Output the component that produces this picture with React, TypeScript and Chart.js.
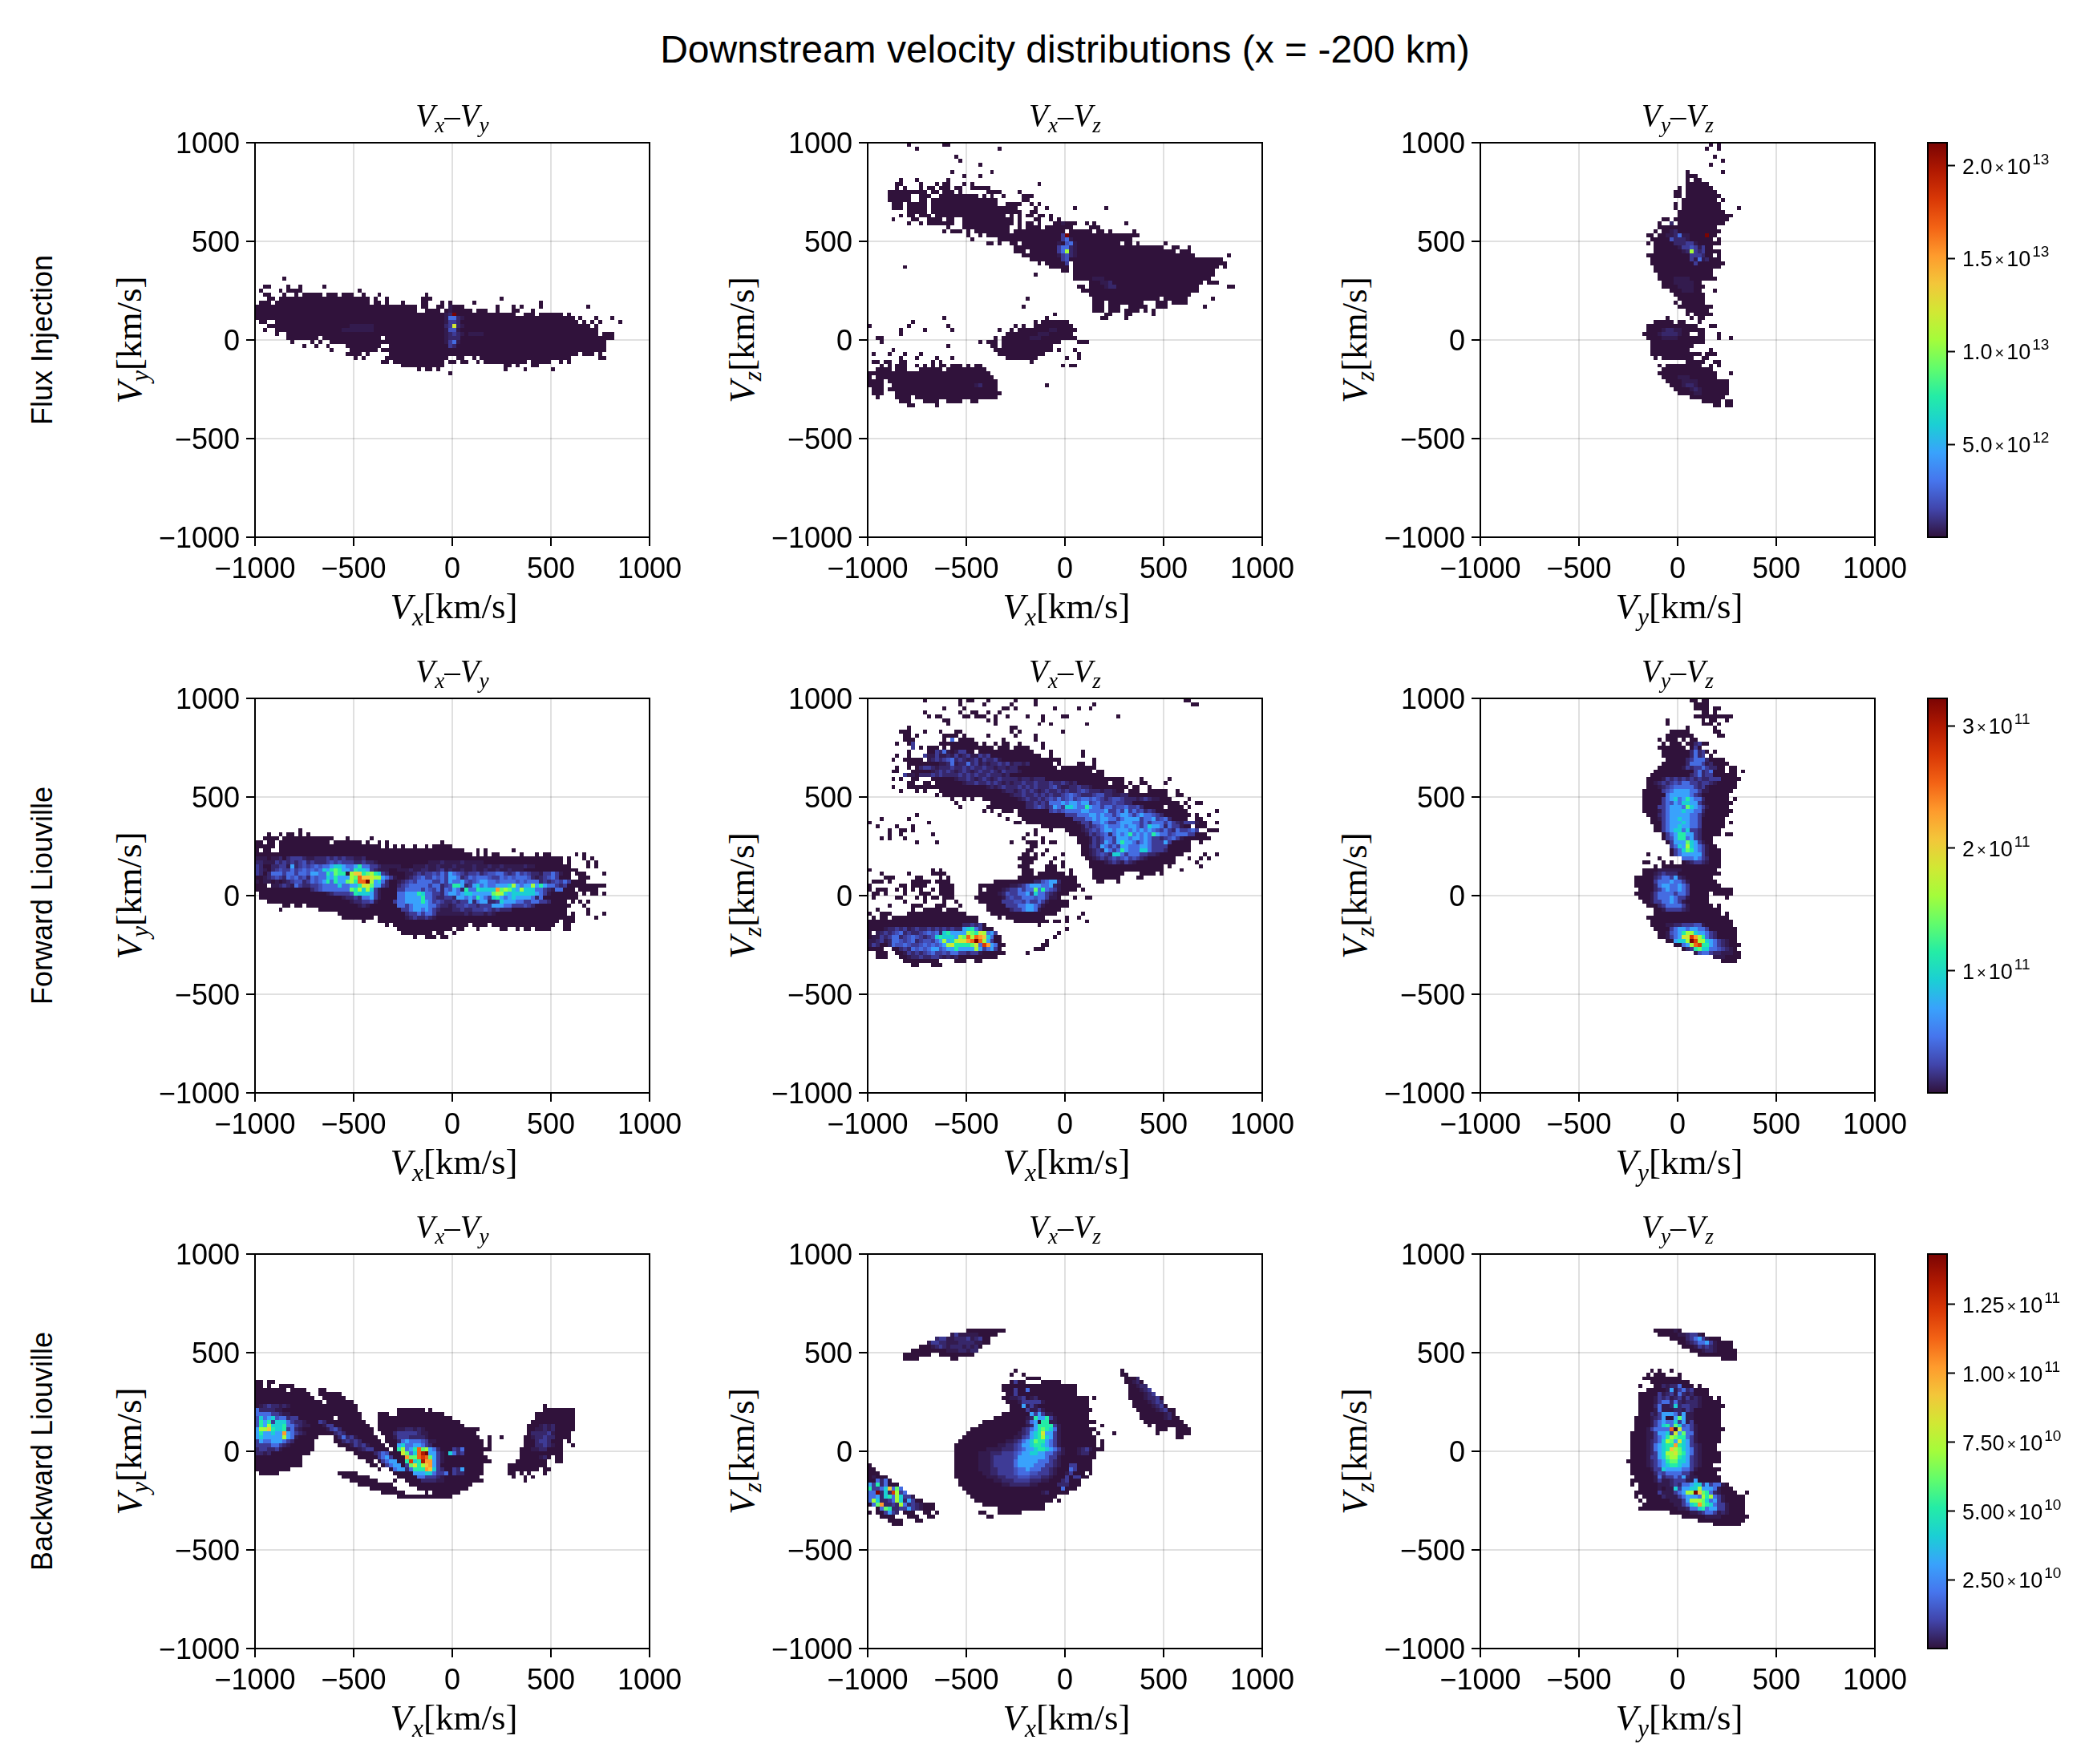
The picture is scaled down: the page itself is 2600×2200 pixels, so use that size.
import { useEffect, useRef } from 'react'
import { Chart, registerables } from 'chart.js'

Chart.register(...registerables)

// 100 x 100 bins, 20 km/s wide. Masks: "row:cols" = occupied bins. Heat: [row, startCol, levels], '.' leaves a bin as it is
const BIN = 20
const LEVELS: Record<string, number> = {
  '0': 0, a: 0.012, b: 0.03, '1': 0.058, c: 0.09, '2': 0.13, '3': 0.214, '4': 0.286, '5': 0.357,
  '6': 0.429, '7': 0.5, '8': 0.571, '9': 0.643, A: 0.714, B: 0.786, C: 0.857, D: 0.929, E: 1,
}
const TURBO = ['#30123b', '#4145ab', '#4675ed', '#39a2fc', '#1bcfd4', '#24eca6', '#61fc6c', '#a4fc3b', '#d1e834', '#f3c63a', '#fe9b2d', '#f36315', '#d93806', '#b11901', '#7a0403']

const AXIS_TICKS = [-1000, -500, 0, 500, 1000]
const ROW_LABELS = ['Flux Injection', 'Forward Liouville', 'Backward Liouville']
const COLOR_MIN = [1e10, 2e8, 1e8]
const COLOR_MAX = [2.123e13, 3.225e11, 1.433e11]
const COLOR_TICKS = [
  [5e12, 1e13, 1.5e13, 2e13],
  [1e11, 2e11, 3e11],
  [2.5e10, 5e10, 7.5e10, 1e11, 1.25e11],
]
const COLOR_MANTISSA = [
  ['5.0', '1.0', '1.5', '2.0'],
  ['1', '2', '3'],
  ['2.50', '5.00', '7.50', '1.00', '1.25'],
]
const COLOR_EXPONENT = [
  ['12', '13', '13', '13'],
  ['11', '11', '11'],
  ['10', '10', '10', '11', '11'],
]

const fluxXYMask = [
  '65:7', '63:2-3 8 11 17', '62:1 6 8-11 26', '61:2-3 7 10 12-16 18-20 22-24 27 31 43', '60:3-4 6-28 30 33 42-44 62',
  '59:1-3 5-28 30-31 33 37 42-43 47 49 55 72', '58:0-40 42-43 46-47 50-52 61 65 67 72 84', '57:0-40 43 44-46 48-54 56-57 58 61 65-66 70',
  '56:0-65 68-70 72 73-77 79', '55:0-79 80 82 86 90', '54:1-2 5-81 83 85 87 92', '53:3-84 86', '52:2 5-86', '51:5 8-86 88-90',
  '50:8-15 17-31 33-90', '49:9 14 16 19-88', '48:12 15 18 23-31 34-88', '47:19 24-30 32-88', '46:23-26 28 34-81 83-85 87',
  '45:25 27 33-48 51-52 55 57-79 87-88', '44:32-33 35-47 49-50 52-53 56 58-68 70-74 77 79', '43:37-47 63-64 66 70-71',
  '42:41 43-44 46 63 68 75', '41:49',
]
const fluxXYHeat: [number, number, string][] = [
  [58, 49, 'a'], [57, 49, 'a0'], [56, 48, 'abE'], [55, 48, 'a22ba'], [54, 48, 'a11b'], [53, 48, 'b18ba'], [52, 48, 'acca'],
  [51, 48, 'ab1ba'], [50, 48, 'abbb'], [49, 48, 'a12a'], [48, 49, '1b'], [53, 24, 'aaaaaa'], [52, 22, 'aaaaaaaa'], [51, 54, 'aaaa'],
]

const fluxXZMask = [
  '99:10 19-20', '98:12 33', '96:22', '95:23', '94:28', '92:21 31', '91:24 28', '90:8 12 20', '89:7-8 13 17 19-20 24 26 43',
  '88:7 9 13 15-16 18-20 22-23 26-30', '87:5-14 16-17 19-21 23 30-33 38', '86:5-10 13-15 18-27 29 31 34 39-41', '85:5-10 13-14 16-32 39-40',
  '84:6-8 10-14 16-32 35-38 41 43', '83:6-8 10-14 16-37 42 45 52 60', '82:10-14 16-38 41-42', '81:8 10-11 13-15 17-34 36 38 40-41 43-44 46',
  '80:6 11-12 15-18 20-21 24-36 38 42 43 46 48', '79:10 13 15-21 24-36 38 40-41 43 47-52 55 57 65', '78:20 24-35 38 40-43 45-51 56-58',
  '77:19 21-23 25 27-35 37-49 51-56 58-59 61 67', '76:25 28 30-64 65-68', '75:26 33-64 65-66', '74:30-31 33 36-37 39-63 65-66 68 75',
  '73:37-74 77 78 81', '72:37-39 41-75 76-77 79 80-81', '71:39-40 41-82 91', '70:41-84 84-86 87-89', '69:43 45-49 52-90', '68:9 46-50 52-88 90',
  '67:49-50 52-87', '66:42 52-87', '65:52-86', '64:56-84 86 87-88', '63:53-54 56-83 91-92', '62:54-83', '61:56-81', '60:40 57 58-73 75-80 87',
  '59:57 58-59 61-69 73-75 77-80', '58:39 57-59 61-63 66-70 73-75 85', '57:57-59 61-63 65-68 70 72', '56:47 60-61 65-66 72', '55:19 45 59-60 65',
  '54:11 42 44-50', '53:0 10 20 37 39 42-51', '52:8 14 21 33 36 38-52', '51:8 35-51', '50:2-3 32 34-52', '49:3 28 30-32 34-48 53-55', '48:20 31-32 34-46',
  '47:6 32-46 48 52', '46:1 5 9 13 33-44 53', '45:8 12 17 21 35-42 50 53', '44:1-2 4-5 8-9 16 18 41', '43:3 5 7-9 12 14 16 18-19 21-23 25 27-28 49 51-52',
  '42:2-5 7-9 13-18 20-29', '41:0-30', '40:0 2-31', '39:0-3 5-32', '38:0-3 6-32 45', '37:1-3 5-32', '36:1-3 7-33', '35:2 7-10 12-32', '34:8-10 14-17 20-23 26-27', '33:10-11 17',
]
const fluxXZHeat: [number, number, string][] = [
  [79, 49, 'a'], [76, 49, '1E'], [75, 49, '12a'], [74, 48, 'a.c2a'], [73, 48, '122ba'], [72, 48, '127ba'], [71, 48, 'a1cba'], [70, 49, '1c'], [69, 49, '01'],
  [65, 57, 'aaa'], [64, 59, 'aab'], [63, 60, 'abb'], [52, 46, 'aa'], [51, 43, 'aaa'], [50, 41, 'aaa'], [38, 27, 'ab'],
]

const fluxYZMask = [
  '99:58 60', '98:57 60', '96:59', '95:61', '94:58', '92:52 61', '91:52-54', '90:52 54-55', '89:52-57', '88:50 52-58', '87:49-50 52-59', '86:49-50 52-60',
  '85:51-59 61', '84:49 51-60', '83:49 51-60 65', '82:50-61', '81:50-63', '80:46-47 49-62', '79:45 48 50-61', '78:45-59', '77:44 46-60', '76:42-43 45-59',
  '75:43-58 60', '74:42 44-60', '73:44-58', '72:44-60', '71:42-58 60', '70:43-58 59-60', '69:43-60 61', '68:44-60', '67:44-58', '66:45-58', '65:45-59', '64:46-55',
  '63:46-56', '62:48-55 59', '61:49-56', '60:50-56', '59:49 51-56', '58:50-58', '57:52-57', '56:52 54-58', '55:47 53 55-56', '54:44-48 50-51 55', '53:42-54 58-59',
  '52:42-56', '51:41-52 55-56 60', '50:42-54 55-56 60 63', '49:43-56', '48:43-53', '47:43-52 58', '46:43-55 57-59', '45:44 46-53 56-57', '44:52-56 59-60',
  '43:45 47-55 58 60', '42:46-58', '41:45-59 63', '40:46-59', '39:47-62', '38:48-62', '37:49-62', '36:50-62', '35:53-61', '34:56-60 62-63', '33:59-60 62-63',
]
const fluxYZHeat: [number, number, string][] = [
  [79, 48, 'b'], [77, 48, 'ab'], [76, 47, 'aab2aa.'], [76, 57, 'E'], [75, 48, 'cbbba'], [74, 49, 'bbb11a'], [73, 50, 'a11c1a1'], [72, 51, 'ab71b1'], [71, 53, '111b'],
  [70, 53, '1a2ab'], [69, 54, '1'], [65, 49, 'aaaa'], [64, 49, 'aaaaa'], [63, 50, 'aaaa'], [62, 51, 'aaa'], [52, 46, 'abbaa'], [51, 45, 'abbbba'], [50, 46, 'aaaa'],
  [40, 50, 'aaa'], [39, 51, 'aaaa'], [38, 51, 'abba'], [37, 53, 'aba'], [36, 54, 'aa'],
]

const forwardXYMask = [
  '66:11', '65:3 6 8-9 11 13', '64:2-5 7-19 23 29', '63:0-1 3-4 6-18 20-26 28 31 33 47', '62:0-2 3-4 6-31 33 35 37 40 43 45-49', '61:0 2-3 6-52 56 58 65',
  '60:0-54 56 58 60-61 67 71 73-74 81 83', '59:0-5 7-77 79 83 85', '58:0-75 76-77 79 84 86', '57:0-79 84 86', '56:0-81', '55:0-79 81-83 88', '54:0-79 82-84',
  '53:0-83', '52:0-2 4-88', '51:0-80 82-86', '50:1-80 81 83 85-86 88', '49:1-81', '48:3-78 80 82 84', '47:7-8 10-11 13-79 83', '46:6 16-78 84', '45:21-78 80 84 88',
  '44:22-29 31-80 86', '43:27 31-76 78-80', '42:33 35-53 55-58 60-75 78-79', '41:36-49 51-52 56 62-63 66 68-69 71-74 78-79', '40:37-44 46-47 50', '39:40 43-45 47-48',
]
const forwardXYHeat: [number, number, string][] = [
  [59, 0, 'aaa0aab0b111baabbb1b1b1bbaab'], [58, 0, 'bbaaa1b1b1b1cb1bbb1c1c111bb1bba'], [57, 0, '1b00bb11a3b1c1c2c22344322352211baaaaa'],
  [56, 0, '1ba0b1c1121c2c2c24356533254431baaa'], [55, 0, '1b0b222122122c332253655079956754 1b'], [54, 0, '00ab1c1b2c21cb2c2243533376B99877321a'],
  [53, 0, 'a0aa0a0ab1ccb12c23525336 75BBE73 42b'], [52, 4, 'aab1ba21bb11c222242233 5886331b'], [51, 14, 'b1c2222222657474 1a'],
  [50, 18, 'ab1111c5444 31a'], [49, 22, 'abb1b2231a'], [48, 24, 'abb11ca'], [47, 26, 'aba'],
  [58, 44, 'aaabaaaabaaaaa'], [57, 40, 'aaabaabaaabaaaabaaabaabaaaaabaa'], [56, 36, 'aaabaabbaab1abaabaabaabaabaabaaa'],
  [55, 38, 'aab1b11c12132c1b11cb1cc221b12 1c1bba1121a'], [54, 38, 'ab1c2112c213 32b12c222c112c2c222cbab1c21'],
  [53, 36, 'ab1c122221121322 3c1c2332 2c2222c2c22 2b1b1c1 2 1'],
  [52, 36, 'b1c22222122b1c553b1342322333473233735322 1b1'], [51, 36, '1122221 2c12b2c3 2b5225444 4A6764374442 2 1 ba22'],
  [50, 36, '223335 4 22 1 1b23 32344 3 3 3 3 3 6 7 7 4 3 4 4 4 4 4 4 3 2 1 a'],
  [49, 36, '2233335 2 2 1 b b 1 1 b 3 3 2 3 2 5 3 2 1 4 5 3 2 3 4 3 3 3 3 2 b 2'],
  [48, 35, '12233335321c1bb1 b 1 1 3 b2 3 3 b b 1 4 3 3 3 2 2 1 1 2 2 1 1 b'],
  [47, 36, '2212333 3 2 2 1 b b a b 1 1 c 1 1 b 1 1 1 3 3 3 2 2 1 1 1 c 1 b'], [46, 37, '11233232 1 b a a a b b 1 b b 1 1 1 c 1 b 1 b b b'],
  [45, 38, 'b11212 2 1 a a a a a a a b a b b b a b a'], [44, 38, 'ab1bb1ba'],
]

const forwardXZMask = [
  '99:14 23 25-26 30 37 42 80-81', '98:23 29 36 42 57 82-83', '97:19 24 34-35 37 47 53 56', '96:14 23 26 27 30 33', '95:15 17-18 24-25 27-29 32 35 40 44 49-50 63',
  '94:19-20 30 32 44', '93:20 32 43 46 55', '92:10 36-37', '91:8-10 14 18 22-23 36 38 49', '90:9-10 12 19-22 24 30 37 42', '89:9-11 19 23-26 34 42',
  '88:7 10-11 18-27 29 32 34-35 38 44', '87:11 13 15-17 19 21-26 27-31 33-35 37-40 44', '86:10 15-19 21-26 28-41 46 54', '85:7 10 14 16-42 43 46 54', '84:6 9-13 15-46 47-48 57',
  '83:10-46 48 53-54 57', '82:7 10 12-47 49-56 57', '81:6-7 11-56 58-59', '80:9-10 12-59', '79:6 8 11-12 16-64 69 76', '78:10-11 14-15 17-60 62-64 66 69-70 75',
  '77:6 10-17 18-65 67-68 71', '76:8 12 14 18-64 66-68 71-75 78', '75:17 19-75 78-79', '74:21 24 26 29-73 74-76 81', '73:22 31-78 80 83-84', '72:23 30-74 76-79 81',
  '71:29 31 34-36 38-80 88', '70:12 33 38-81 83 86', '69:3 10 35 39-80 83-84', '68:0 15 37-38 40-81 83-85 88', '67:2 7 11 44-81 83-85', '66:5 8-9 11 42 46 50-81 82-83 86-88',
  '65:5 8 16 40 42 51-85', '64:3 5 9 39 44 53-86', '63:12 17 36 40-42 44 46-47 53-81 84', '62:41-42 54-81', '61:40-41 45 54-81', '60:39-40 42 44 49 54-79 85 88',
  '59:38-42 47 55-77 81 84 86', '58:39-41 46 49 56-75 76-77 83', '57:38-40 45-47 49 56-74 76 84', '56:0 16 18 39-41 45-47 51 57-74 79', '55:3 10 16-19 39-41 43-49 51 57-64 69-72 74',
  '54:4-5 6 12-13 18 20 38-52 57-63 68-69', '53:1-3 5 11-15 17-20 32-52 58-59 63', '52:0 8 9 11-12 13-14 18-21 28-51 52-53', '51:0 2-4 7 9 11 13 16 18-21 28 30-52 54',
  '50:1-2 4 9 13-15 18-21 28-50', '49:1 7-8 12 14 16-17 19-21 27-48 52 55-56', '48:9 14 19 22 28-50', '47:5 11-13 17-19 23 30-50', '46:2 11 14-18 20-22 30-48', '45:0 3-5 10-24 31-47 54',
  '44:1 3-4 6-27 33 35-44 50 53', '43:0-27 37-45 47-48 50 55', '42:0-29 43', '41:0-31 50', '40:0 2-31 48', '39:0-33 47', '38:0-33 45', '37:0-34 44-45', '36:0-3 6-33 42-44',
  '35:2-4 7-34 40', '34:2-4 8-32', '33:9-17 22-24 27-28', '32:11-12 16-18',
]
const forwardXZHeat: [number, number, string][] = [
  [89, 21, '2'], [88, 11, '1'], [87, 11, '1'], [86, 17, '1b2a.a11'], [85, 14, '1aa1aaba1ab1aa1b1'], [84, 15, 'ab1b1c2b1bab1a1bb1a'], [83, 18, 'aab2abb2b1ababb1b1abbab'],
  [82, 13, 'b11babbb1bb1b1bb1bbabbabb'], [81, 16, 'ab1b1bab1bab1bb1ba1bbba'], [80, 9, '1aa.bbb1b1bbbb1b1b1bb1bbbab'], [79, 22, 'abb1bab1bab1bbbbabbabbb'],
  [78, 24, 'abb1bb1b1bababb1bb1bbb1bb1bab'], [77, 30, 'abab1bbb1b1b1bbb1cbaabb1bba'], [76, 34, 'abbab1b1bab1bb1b1bb1c1bbbabba'], [75, 36, 'abb1bb1b1b1bb1c2c1bbb1ccbbaabb'],
  [74, 38, 'ab1bb1b1c121c21c22c2c1b1cc1bbbab1baa'], [73, 40, 'bb1b1b2223233233 1c21 1 1c1 1bb'], [72, 40, 'bb1c1b1 321 4432 2 5 3 2 2 1 2 2 1 c c 2 1 1 c b'],
  [71, 46, '1c1c2222332222 31 1 2 1 3 1 2 1 c b 1 b'], [70, 50, '111222332322123321232 2c1b'], [69, 52, '111223233221233331 2 2 3 1 c 2 b'],
  [68, 53, 'a11b2232112333221212 2 2 1 2 1 b a 1 1 1 a'], [67, 54, 'a1b1c2 3 2 2 2 3 2 3 3 2 1 2 4 3 3 2 b 2 1 1 a'],
  [66, 54, 'ab1c12 3 3 2 3 3 3 2 3 2 3 2 3 2 c 1 2 1 b 2 1 1 c 2 1'], [65, 55, 'a1b1c2b2 3 2 3 5 2 3 2 3 2 5 3 2 2 1 c 2 2 2 1 1'],
  [64, 56, 'a1b1 2 2 1 3 3 3 2 3 3 2 3 2 1 1 b 1 c 2 1 a'], [63, 56, 'a1b1 3 2 1 3 5 3 3 2 1 2 3 2 1 1 1 3 1'], [62, 56, 'b1b 3 2 1 2 1 3 3 2 2 2 3 3 2 1 1 1 1'],
  [61, 56, 'ab1b3 2 1 2 5 3 2 2 2 4 4 2 1 1 1 b'], [60, 56, 'ab1c1 b 4 4 2 1 2 2 2 1 1 b b a'], [59, 57, 'ab1b1c1 c 2 1 c 1 b a'], [58, 60, 'ab1b a1b a'],
  [53, 42, 'bbc23 3b'], [52, 36, 'aab1233322 3ba'], [51, 34, 'ab112122 62 52c1a'], [50, 33, 'abc11223 1 4 2 2 1 b a'],
  [49, 34, 'a1c11222c2 21 a a'], [48, 34, '111cc1211 21a'], [47, 35, '111223321a'], [46, 36, 'b11233 2a'],
  [42, 24, 'bb1b1'], [41, 4, 'abb1b1ab1bb1b1b1b1bb3452 1'], [40, 2, 'ab1b1c2b1bb1c2c2b4533337 658 72 3 1'], [39, 1, 'aa1b1 22b1c2c1b1c45444 3 7 6 B 7 B A 9 4 2'],
  [38, 0, 'aab1ab22c1c2b1cc1 2 3 7 3 4 7 8 8 A B E B 7 3 1'], [37, 0, 'a1b..b2cc2c11c2c2c23 7 8 5 5 5 5 6 8 2 C A 3 2'],
  [36, 8, 'b1b2c2c2 33c2 3 3 5 3 3 3 3 7 3 1 2 3 1'], [35, 9, 'a1b1b1 c 2 1 1 c 1 2 2 1 1 b 1 1 a'], [34, 10, 'abb1bb 1 1 b a b a b'],
]

const forwardYZMask = [
  '99:53-54 56-57', '98:54-57', '97:54-57 59-60', '96:56-57 59', '95:54-63', '94:47 56 58-59 62', '93:47 56-58 60', '92:52 59', '91:48-52 59-60', '90:47-53 60-61',
  '89:45 47-49 51 53-54', '88:46 48-50 52-57', '87:45-51 53-55', '86:46-57 59', '85:46-56 58', '84:47-61', '83:46-62', '82:45-61 63-64', '81:44-61 63-64 66', '80:43-64',
  '79:42-65', '78:42-64', '77:42-64', '76:41-63', '75:41-62', '74:41-62 64', '73:41-63', '72:41-62', '71:41-63', '70:42-62', '69:43-61', '68:43-61 63', '67:44-61', '66:44-60',
  '65:46-60 62-63', '64:46-58', '63:47-58', '62:48-59', '61:48-60', '60:42 48-60', '59:45 51-60', '58:41-42 46 48 51-60', '57:44 46-60', '56:41-59', '55:41-60', '54:39-58',
  '53:39-59', '52:39-60', '51:40-63', '50:39-57 59-63', '49:40-57 62', '48:41-57', '47:42-58 60', '46:44-60', '45:44-60 62', '44:42-62', '43:43-63', '42:43-63', '41:44-64',
  '40:45-64', '39:45-64', '38:47-64', '37:49-65', '36:51-64', '35:55-65', '34:59-65', '33:61-64',
]
const forwardYZHeat: [number, number, string][] = [
  [88, 54, 'b1'], [87, 54, '1'], [86, 53, 'b2b1'], [85, 53, 'b2b1'], [84, 52, 'b1222b'], [83, 52, 'b2221ab'], [82, 51, 'a1b1121bb'], [81, 54, '12b1 2'], [80, 53, 'b12 b1 1'],
  [79, 46, 'a1b1b1b1b1bb1 1 1'], [78, 44, 'ab1b1c1 2 2 1 1 b 1 1 b a'], [77, 45, 'ab1c22 2 2 2 1 b 1 a'], [76, 46, '1c23 3 3 3 2 2 1 a a'],
  [75, 47, '2 3 3 3 3 3 2 1 b'], [74, 46, '12 3 4 2 3 5 3 2 2 b'], [73, 46, '1 2 c 3 2 4 4 3 3 1 a'], [72, 45, '1 1 2 3 3 3 2 6 4 3 2 1 a'],
  [71, 45, 'a 1 2 3 3 3 4 3 3 2 2 b'], [70, 45, 'b 1 2 3 3 3 3 3 2 2 1 a'], [69, 45, 'a 1 2 3 3 4 3 3 2 2 1'], [68, 46, '1 2 3 3 3 4 3 2 2 1'],
  [67, 46, '1 2 3 3 4 3 3 2 2 1'], [66, 46, '1 2 3 4 4 2 4 1 1 b'], [65, 47, '1 2 3 5 5 3 3 1 b'], [64, 47, '1 c 3 5 5 2 3 1 b'],
  [63, 48, '1 3 3 3 6 4 3 1 a'], [62, 48, '1 2 4 3 7 4 3 2 1 a'], [61, 49, '1 2 4 6 5 3 2 1 a'], [60, 49, '1 2 3 3 3 3 3 1 a'],
  [59, 51, '2 2 2 3 2 1 b'], [58, 52, 'a b 1 1 b a'], [56, 45, 'a a a a a a'], [55, 44, 'a b 1 b b b'], [54, 44, 'b 1 2 2 1 3 b a'],
  [53, 44, '1 2 2 2 3 2 2 1 a'], [52, 44, 'b 2 3 3 2 2 3 2 1'], [51, 44, 'b 1 2 3 2 2 3 2 1'], [50, 43, 'a 1 2 2 2 2 1 2 2 1'],
  [49, 43, 'a 1 2 2 2 3 2 1 1 a'], [48, 43, 'a 1 1 2 2 3 2 1 a'], [47, 45, 'b 1 2 2 2 2 1 a'], [46, 46, 'a 1 1 1 1 b a'],
  [42, 47, 'a a b b 1 1 1 c c a'], [41, 48, '1 2 3 3 2 3 3 2 2 1'], [40, 47, 'a c 2 3 5 7 7 4 3 3 2 1 b'], [39, 47, 'a 1 2 3 8 8 C A 7 5 2 1 b'],
  [38, 49, '3 4 4 7 E C 7 7 4 3 2 1 b a'], [37, 51, '2 3 7 B C 5 5 3 2 1 b a'], [36, 52, 'b 1 5 6 4 4 2 2 c 1 b a'], [35, 54, 'a c 2 2 1 b b a a a'], [34, 59, 'a a a'],
]

const backwardXYMask = [
  '67:0 1 3-4', '66:0 1 3 6-9', '65:0-7 9-12 16-17', '64:0-13 16-21', '63:0-14 17-22', '62:0 1-16 18-24', '61:0-25 73', '60:0-17 18-25 36-42 44 73-79 80', '59:0-18 19-26 31-33 36-47 71-80',
  '58:0-19 21-26 31-49 71-80', '57:0-27 31-51 70-80', '56:0-28 31-52 69-80', '55:0-29 31-56 69-80', '54:0-29 32-55 69-79', '53:0-15 20-30 33-56 59 62 68-79', '52:0-14 20-31 33-57 59 68-77 79',
  '51:0-14 21-32 34-57 59 68-77 80', '50:0-14 23-33 35-59 67-77', '49:0-13 25-35 36-57 67-77', '48:0-11 26-36 37-58 67-74 76-77', '47:0-11 28-29 31-37 38-59 66-73 76-77', '46:0-11 29-30 32-38 39-57 64-73',
  '45:0-8 31 34-38 40-57 64-71 73-74', '44:1-5 21-25 35-57 64-65 67 69 73', '43:22-28 36-56 65 68 70', '42:24-30 35 38-57 68', '41:26-34 39-54', '40:29-35 41-53', '39:32-37 43 45-51', '38:36-42 43-49',
]
const backwardXYHeat: [number, number, string][] = [
  [61, 1, 'ab1bbaba'], [60, 0, '2bbbbaa'], [59, 0, '22221 1 b a a'], [58, 0, 'c4234c22b11'], [57, 0, 'c5351444 21b b a'], [56, 0, 'c53744452 21b a a'],
  [55, 0, '37795445 12b a'], [54, 0, '353343 3A321b a'], [53, 0, '3 4 3 3 3 3 3 7 3 2 a'], [52, 0, '1322333 21b'], [51, 0, '1111 2 2 1 b a'], [50, 0, 'b11bb1a'], [49, 0, 'bbab'],
  [57, 16, '1b'], [56, 17, 'a11'], [55, 18, 'a1c b'], [54, 20, 'b1b'], [53, 21, 'b2b1a'], [52, 22, 'b1b1b'], [51, 24, 'a1b1a'], [50, 26, 'ab1 1'], [49, 30, 'b1 2 c'],
  [48, 31, '1 2 3 1'], [47, 32, '1 2 3 3'], [46, 33, '1 2 3 3'], [45, 35, '2 3 3 b'],
  [55, 36, 'aabbaba'], [54, 35, 'b11111baa'], [53, 35, 'a111bbbba'], [52, 36, 'b2322 2c1aa'], [51, 36, '3422332 1 b'], [50, 36, '57235B6 7 3 2 b'],
  [49, 37, '86 24BDE331a'], [48, 38, 'A66BCB631a'], [47, 38, '5C45DAA31a'], [46, 38, '1685 79A31'], [45, 39, '2555A941b'], [44, 40, '33344211 2'], [43, 41, '22111ba'], [42, 42, 'bbbbaa'],
  [49, 49, '42b1'], [50, 50, '1b2'], [45, 50, '1b3'], [44, 50, '1bb'], [56, 72, 'abab'], [55, 71, 'aabab'], [54, 70, 'b bbb1 a'], [53, 70, 'abb1b b'], [52, 71, 'b1 1 b'], [51, 71, 'bb1ba'], [50, 70, 'aabb'], [48, 72, 'ab'],
]

const backwardXZMask = [
  '80:25-34', '79:21-32', '78:17-30', '77:15-30', '76:13-28', '75:11-26', '74:9-15 18-26', '73:9-12 21-22', '70:37 64', '69:36 39 64-65', '68:40-43 65-68', '67:36-39 44-48 65-69',
  '66:34-35 36-52 66-70', '65:34-37 38-52 66-71', '64:35-52 66-72', '63:34-55 57 66-74', '62:35-55 67-74', '61:36-55 67-75', '60:36-56 68-77', '59:34-55 69-77', '58:32-55 69-78', '57:29-57 70-79',
  '56:28-55 59 71 73-80', '55:26-57 73-75 78-81', '54:25-56 58 62 73 78-81', '53:24-57 78-79', '52:23-57 59', '51:22-57 59', '50:22-59', '49:22-57', '48:22-57', '47:22-56', '46:0 22-56', '45:0-1 22-56',
  '44:0-2 22-54 56', '43:0-4 22-55', '42:0-5 23-53', '41:0-7 23-53', '40:0-8 24-52', '39:0-9 25-50', '38:0-11 26-47', '37:0-13 27-46 48', '36:0-16 29-44', '35:2-16 33-44', '34:0 2-6 9-11 14-15 17 28-29 33-36 37-38',
  '33:3-6 10-12 15-16 30-31', '32:5-8 12-13', '31:6-8',
]
const backwardXZHeat: [number, number, string][] = [
  [79, 21, 'a1aaaaa'], [78, 17, 'b11aabbb1ab1'], [77, 15, 'a1 1 b b a a a b b b b a a'], [76, 16, 'ab1babbbabab'], [75, 20, 'aaabbabb'],
  [68, 68, 'b'], [67, 67, 'ab'], [66, 68, 'abb'], [65, 69, 'ab1'], [64, 70, 'ab1'], [63, 70, 'abb1'], [62, 71, 'ab1b'], [61, 72, 'ab1'], [60, 73, 'ab1'], [59, 75, 'ab'], [58, 75, 'ab'],
  [67, 37, '1'], [65, 37, '1.'], [65, 40, '2'], [64, 37, '1'], [63, 36, 'aab1.ab'], [62, 38, 'a11111a'], [61, 39, '3a1a'], [60, 40, '1aa1a'], [59, 41, '3131aa'], [58, 40, 'ab5335 1a'],
  [57, 40, 'b2 3.5 5 a a'], [56, 40, 'ab3555 5 1 a'], [55, 39, 'b1 2 3 5 6 5 4 2 a'], [54, 38, 'ab1345 8 3 3 1 a'], [53, 37, 'aa1c3457 4 3 1 a'],
  [52, 35, 'aab1234 6 5 5 3 2 1 a'], [51, 33, 'aabb1c33455 4 3 2 1 a'], [50, 30, 'aaaabbb1c23345543 2 1 a'], [49, 28, 'aaabbb111c2334433221ba'], [48, 28, 'aaab11111c33333332 11a'],
  [47, 28, 'aaab111112333332221ba'], [46, 28, 'aaab111112333322211ba'], [45, 28, 'aaabb1111c2232221 1ba'], [44, 29, 'aabb1111c222cc111ba'], [43, 30, 'aaabb111ccc111bba'], [42, 32, 'aabbb1111bbbaa'], [41, 34, 'aabbbbbaa'],
  [50, 53, 'ab1a'], [49, 53, 'ab b'], [46, 51, '1 1'], [45, 51, '2 1'], [44, 50, 'a1'], [43, 50, '1.1 1'], [42, 49, 'b1'], [41, 48, 'bbb'], [40, 49, '2'], [39, 44, 'ab'],
  [43, 1, 'a'], [42, 2, '2b2'], [41, 0, '31 5b2'], [40, 0, '5 1 1 2 4 9 2 6 2'], [39, 0, '22E b4b C 7 1 2'], [38, 0, '223 b4 5 2 7 4 1 1 a'], [37, 0, '2 7 4 b b 1 2 7 4 b 3 1'],
  [36, 1, '26A b b 1 b 7 2 b 1 b a'], [35, 3, '265 b b 1 1 3 1 b a'], [34, 4, '131 b'],
]

const backwardYZMask = [
  '80:44-50', '79:45-56', '78:48-60', '77:50-63', '76:51-63', '75:53-64', '74:55-64', '73:61-64', '70:43 45 48', '69:42 44-46 50', '68:41-50', '67:43-52', '66:40 44-53 55', '65:42-57', '64:40-57',
  '63:40-58 60', '62:40-60', '61:40-61', '60:40-60', '59:40-60', '58:39-60', '57:39-60', '56:39-60', '55:39-61', '54:38-60', '53:38-60', '52:38-60', '51:38-59', '50:38-59', '49:38-60', '48:38-60',
  '47:37-60', '46:38-58', '45:38-60', '44:38-59', '43:39-60', '42:38-60', '41:38 40-62', '40:40-63', '39:39-64 67', '38:39 41-66', '37:40 42-66', '36:41-66', '35:40-66', '34:48-66', '33:51-67', '32:55-66', '31:59-65',
]
const backwardYZHeat: [number, number, string][] = [
  [80, 49, 'a'], [79, 50, 'aab11a'], [78, 52, 'b123 1 a'], [77, 52, 'ab1 2 2 3 1 a'], [76, 54, 'a1b1 b a'], [75, 56, 'a b b a'],
  [66, 46, 'b ab b 2'], [65, 47, 'a3a1 2 b 1'], [64, 45, '1ab1a2b a b'], [63, 44, 'a1b1ab1a1aba'], [62, 44, 'a1 2 2 b 2 b a b b b a'], [61, 44, 'b2 a a b 4 b 1 1 b b a'],
  [60, 44, 'a 2 a a a b b a 1 b'], [59, 43, 'b a 1 3 3 3 2 b 3 a a'], [58, 43, 'a b 1 3 . . 3 6 3 a a'], [57, 43, 'a 1 2 3 2 2 4 1 3 a 1'], [56, 43, 'a 1 2 4 5 2 6 4 c 2 1 a'],
  [55, 42, 'a 1 2 2 2 2 B 0 8 2 2 1 a'], [54, 42, 'a a 1 3 3 4 1 8 3 6 2 2 a'], [53, 42, 'a a 1 2 3 5 7 6 5 5 2 1 a'], [52, 42, 'a b 1 2 4 7 6 3 8 4 3 1 a'],
  [51, 42, 'a b 2 3 4 5 5 A 5 4 3 1 b a'], [50, 42, 'a b 2 3 4 5 9 7 6 4 3 2 b a'], [49, 42, 'a b 1 3 4 7 7 8 6 5 3 2 b a'], [48, 42, 'a 1 1 3 4 6 7 7 5 4 3 1 b a'],
  [47, 42, 'a b 1 2 3 5 6 6 4 4 3 1 b a'], [46, 42, 'a b 1 2 3 4 5 5 4 3 3 1 b a'], [45, 43, 'a 1 1 4 3 3 3 3 2 2 1 a'], [44, 44, 'b c 1 2 2 2 2 1 1 a'],
  [43, 44, 'a 2 b 1 1 2 1 3 b a a'], [42, 44, 'a 1 a a b 1 1 1 a a 3'], [41, 45, 'a a a b 1 b 2 2 3 4 4 1 3 1 2 2 a'], [40, 45, 'a . a a 4 1 3 3 4 4 7 3 3 3 2 a'],
  [39, 45, '1 a a a 1 2 3 7 7 E 9 6 5 2 b a'], [38, 46, 'b a a a 1 2 3 3 3 2 7 5 7 2 1 a'], [37, 48, 'a a a 1 3 7 7 7 6 4 2 3 1 a'], [36, 49, 'a a 1 2 4 5 A 6 5 4 2 1 1 a'],
  [35, 50, 'a a b 2 2 4 5 2 3 3 1 1 a'], [34, 53, 'a a b 1 2 2 1 a b a'], [33, 57, 'a a a a'],
]

const PANEL_MASKS = [fluxXYMask, fluxXZMask, fluxYZMask, forwardXYMask, forwardXZMask, forwardYZMask, backwardXYMask, backwardXZMask, backwardYZMask]
const PANEL_HEAT = [fluxXYHeat, fluxXZHeat, fluxYZHeat, forwardXYHeat, forwardXZHeat, forwardYZHeat, backwardXYHeat, backwardXZHeat, backwardYZHeat]
const PANEL_AXES = [['x', 'y'], ['x', 'z'], ['y', 'z']]

// layout, all in page pixels
const COL_LEFT = [318, 1082, 1846]
const ROW_TOP = [178, 871, 1564]
const AXIS_SIZE = 492
const PAD = { left: 120, top: 40, right: 50, bottom: 70 }
const FONT = '"Liberation Sans", Arial, sans-serif'
const SERIF = '"Liberation Serif", "Times New Roman", serif'

function hexToRgb(hex: string) {
  return [1, 3, 5].map((i) => parseInt(hex.slice(i, i + 2), 16))
}

function turboColor(t: number) {
  const f = Math.min(Math.max(t, 0), 1) * (TURBO.length - 1)
  const i = Math.min(Math.floor(f), TURBO.length - 2)
  const a = hexToRgb(TURBO[i])
  const b = hexToRgb(TURBO[i + 1])
  const m = a.map((v, k) => Math.round(v + (b[k] - v) * (f - i)))
  return `rgb(${m[0]},${m[1]},${m[2]})`
}

function binCenter(i: number) {
  return -1000 + BIN * i + BIN / 2
}

function buildCells(mask: string[], heat: [number, number, string][], vmin: number, vmax: number) {
  const cells = new Map<string, { x: number; y: number; v: number }>()
  const put = (row: number, col: number, frac: number) => {
    if (col < 0 || col > 99) return
    cells.set(`${row}_${col}`, { x: binCenter(col), y: binCenter(row), v: vmin + frac * (vmax - vmin) })
  }
  mask.forEach((line) => {
    const [row, spans] = line.split(':')
    spans.split(' ').forEach((s) => {
      const [a, b] = s.split('-').map(Number)
      for (let c = a; c <= (b ?? a); c++) put(+row, c, 0)
    })
  })
  heat.forEach(([row, start, text]) => {
    ;[...text.replace(/ /g, '')].forEach((ch, k) => {
      if (LEVELS[ch] !== undefined) put(row, start + k, LEVELS[ch])
    })
  })
  return [...cells.values()]
}

const heatCells = {
  id: 'heatCells',
  beforeDatasetsDraw(chart: any, _args: any, opts: any) {
    const { ctx, scales } = chart
    const half = BIN / 2
    chart.data.datasets[0].data.forEach((c: any) => {
      const x0 = Math.round(scales.x.getPixelForValue(c.x - half))
      const x1 = Math.round(scales.x.getPixelForValue(c.x + half))
      const y0 = Math.round(scales.y.getPixelForValue(c.y + half))
      const y1 = Math.round(scales.y.getPixelForValue(c.y - half))
      ctx.fillStyle = turboColor((c.v - opts.vmin) / (opts.vmax - opts.vmin))
      ctx.fillRect(x0, y0, x1 - x0, y1 - y0)
    })
  },
}

const spines = {
  id: 'spines',
  afterDatasetsDraw(chart: any) {
    const { ctx, chartArea: a } = chart
    ctx.save()
    ctx.strokeStyle = '#000'
    ctx.lineWidth = 2
    ctx.strokeRect(a.left, a.top, a.right - a.left, a.bottom - a.top)
    ctx.restore()
  },
}

const colorRamp = {
  id: 'colorRamp',
  beforeDatasetsDraw(chart: any) {
    const { ctx, chartArea: a } = chart
    const g = ctx.createLinearGradient(0, a.bottom, 0, a.top)
    TURBO.forEach((c, i) => g.addColorStop(i / (TURBO.length - 1), c))
    ctx.fillStyle = g
    ctx.fillRect(a.left, a.top, a.right - a.left, a.bottom - a.top)
  },
}

// "2.0×10^13": canvas text cannot raise an exponent, so each piece is placed on its own
const colorTickLabels = {
  id: 'colorTickLabels',
  afterDraw(chart: any, _args: any, opts: any) {
    const { ctx, scales, chartArea: a } = chart
    ctx.save()
    ctx.fillStyle = '#000'
    ctx.textBaseline = 'alphabetic'
    ctx.textAlign = 'left'
    COLOR_TICKS[opts.row].forEach((v, i) => {
      const y = scales.y.getPixelForValue(v) + 10
      let x = a.right + 19
      const piece = (text: string, size: number, dy: number, gap: number) => {
        ctx.font = `${size}px ${FONT}`
        ctx.fillText(text, x, y + dy)
        x += ctx.measureText(text).width + gap
      }
      piece(COLOR_MANTISSA[opts.row][i], 27, 0, 3)
      piece('×', 20, -1, 3)
      piece('10', 27, 0, 2)
      piece(COLOR_EXPONENT[opts.row][i], 19, -12, 0)
    })
    ctx.restore()
  },
}

function axisOptions(fixed: any, labelOffset: number) {
  return {
    type: 'linear',
    min: -1000,
    max: 1000,
    afterBuildTicks: (s: any) => {
      s.ticks = AXIS_TICKS.map((value) => ({ value }))
    },
    afterFit: (s: any) => Object.assign(s, fixed, { paddingTop: 0, paddingBottom: 0 }),
    border: { display: false },
    grid: { color: 'rgba(0,0,0,0.12)', lineWidth: 2, tickColor: '#000', tickWidth: 2, tickLength: 11 },
    ticks: {
      autoSkip: false,
      maxRotation: 0,
      padding: 8,
      labelOffset,
      color: '#000',
      font: { family: FONT, size: 36 },
      callback: (v: number) => String(v).replace('-', '\u2212'),
    },
  }
}

function Panel({ index }: { index: number }) {
  const ref = useRef<HTMLCanvasElement>(null)
  const row = Math.floor(index / 3)
  const col = index % 3

  useEffect(() => {
    if (!ref.current) return
    const vmin = COLOR_MIN[row]
    const vmax = COLOR_MAX[row]
    const data = buildCells(PANEL_MASKS[index], PANEL_HEAT[index], vmin, vmax)
    const chart = new Chart(ref.current, {
      type: 'scatter',
      data: { datasets: [{ data, pointRadius: 0 }] },
      plugins: [heatCells, spines],
      options: {
        animation: false,
        responsive: false,
        devicePixelRatio: 1,
        layout: { padding: { top: PAD.top, right: PAD.right, left: 0, bottom: 0 } },
        scales: {
          x: axisOptions({ height: PAD.bottom }, 0),
          y: axisOptions({ width: PAD.left }, 3),
        },
        plugins: { legend: { display: false }, tooltip: { enabled: false }, heatCells: { vmin, vmax } },
      },
    } as any)
    return () => chart.destroy()
  }, [index, row])

  return (
    <canvas
      ref={ref}
      width={PAD.left + AXIS_SIZE + PAD.right}
      height={PAD.top + AXIS_SIZE + PAD.bottom}
      style={{ position: 'absolute', left: COL_LEFT[col] - PAD.left, top: ROW_TOP[row] - PAD.top }}
    />
  )
}

function Colorbar({ row }: { row: number }) {
  const ref = useRef<HTMLCanvasElement>(null)

  useEffect(() => {
    if (!ref.current) return
    const chart = new Chart(ref.current, {
      type: 'scatter',
      data: { datasets: [] },
      plugins: [colorRamp, spines, colorTickLabels],
      options: {
        animation: false,
        responsive: false,
        devicePixelRatio: 1,
        layout: { padding: { top: PAD.top, bottom: PAD.top, left: 10, right: 0 } },
        scales: {
          x: { display: false, min: 0, max: 1 },
          y: {
            position: 'right',
            min: COLOR_MIN[row],
            max: COLOR_MAX[row],
            afterBuildTicks: (s: any) => {
              s.ticks = COLOR_TICKS[row].map((value) => ({ value }))
            },
            afterFit: (s: any) => {
              s.width = 170
              s.paddingTop = 0
              s.paddingBottom = 0
            },
            border: { display: false },
            grid: { drawOnChartArea: false, tickColor: '#000', tickWidth: 2, tickLength: 10 },
            ticks: { display: false },
          },
        },
        plugins: { legend: { display: false }, tooltip: { enabled: false }, colorTickLabels: { row } },
      },
    } as any)
    return () => chart.destroy()
  }, [row])

  return (
    <canvas
      ref={ref}
      width={204}
      height={AXIS_SIZE + 2 * PAD.top}
      style={{ position: 'absolute', left: 2394, top: ROW_TOP[row] - PAD.top }}
    />
  )
}

function Sub({ a }: { a: string }) {
  return (
    <>
      <i>V</i>
      <sub style={{ fontSize: '0.7em', verticalAlign: '-0.3em', lineHeight: 0, fontStyle: 'italic' }}>{a}</sub>
    </>
  )
}

function Text({ x, y, rotate, style, children }: any) {
  return (
    <div
      style={{
        position: 'absolute',
        left: x,
        top: y,
        whiteSpace: 'nowrap',
        lineHeight: 1,
        color: '#000',
        transform: `translate(-50%,-50%)${rotate ? ' rotate(-90deg)' : ''}`,
        ...style,
      }}
    >
      {children}
    </div>
  )
}

export default function App() {
  return (
    <div style={{ position: 'absolute', left: 0, top: 0, width: 2600, height: 2200, background: '#fff', overflow: 'hidden' }}>
      <Text x={1328} y={62} style={{ fontFamily: FONT, fontSize: 48 }}>
        Downstream velocity distributions (x = -200 km)
      </Text>
      {PANEL_MASKS.map((_, i) => (
        <Panel key={i} index={i} />
      ))}
      {ROW_LABELS.map((label, r) => (
        <Colorbar key={label} row={r} />
      ))}
      {ROW_LABELS.map((label, r) => (
        <Text key={label} x={53} y={ROW_TOP[r] + AXIS_SIZE / 2} rotate style={{ fontFamily: FONT, fontSize: 36 }}>
          {label}
        </Text>
      ))}
      {ROW_LABELS.map((_, r) =>
        PANEL_AXES.map(([a, b], c) => {
          const cx = COL_LEFT[c] + AXIS_SIZE / 2
          const cy = ROW_TOP[r] + AXIS_SIZE / 2
          return (
            <div key={`${r}${c}`}>
              <Text x={cx} y={ROW_TOP[r] - 35} style={{ fontFamily: SERIF, fontSize: 39 }}>
                <Sub a={a} />–<Sub a={b} />
              </Text>
              <Text x={cx + 2} y={ROW_TOP[r] + AXIS_SIZE + 86} style={{ fontFamily: SERIF, fontSize: 45 }}>
                <Sub a={a} />[km/s]
              </Text>
              <Text x={COL_LEFT[c] - 157} y={cy} rotate style={{ fontFamily: SERIF, fontSize: 45 }}>
                <Sub a={b} />[km/s]
              </Text>
            </div>
          )
        }),
      )}
    </div>
  )
}
